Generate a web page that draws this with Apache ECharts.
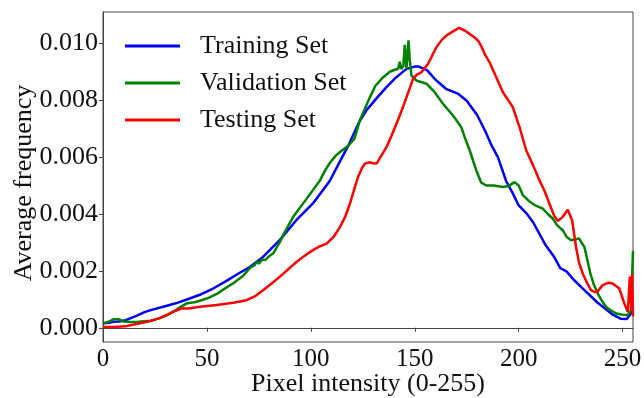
<!DOCTYPE html>
<html>
<head>
<meta charset="utf-8">
<script src="https://cdn.jsdelivr.net/npm/echarts@6/dist/echarts.min.js"></script>
<style>
  html, body { margin: 0; padding: 0; background: #fff; }
  #main { width: 644px; height: 398px; }
</style>
</head>
<body>
<div id="main"></div>
<script>
// tick values
var xTicks = [0, 50, 100, 150, 200, 250];
var yTicks = [0, 0.002, 0.004, 0.006, 0.008, 0.010];

// Training set
var trainX = [0, 3, 5, 8, 11, 16, 20, 23, 29, 35, 41, 47, 53, 59, 65, 71, 77, 85, 93, 101,
  109, 114, 118, 123, 127, 132, 136.4, 141, 146, 150, 152, 156, 160, 165, 171, 175, 180, 184,
  187, 190, 194, 197, 200, 204, 207, 213, 217, 220, 223, 226, 228, 232, 238, 242, 245, 249,
  252, 253.5, 255];
var trainY = [0.00016, 0.00018, 0.00021, 0.00022, 0.00027, 0.00042, 0.00055, 0.00062, 0.00074,
  0.00086, 0.00101, 0.00117, 0.00138, 0.00163, 0.0019, 0.00215, 0.00249, 0.00308, 0.00378,
  0.00437, 0.00515, 0.00585, 0.0064, 0.0072, 0.00767, 0.0081, 0.00846, 0.0088, 0.0091, 0.00918,
  0.00918, 0.00905, 0.00872, 0.0084, 0.00822, 0.00798, 0.00748, 0.0069, 0.0064, 0.006, 0.00515,
  0.00475, 0.0043, 0.004, 0.0037, 0.0029, 0.0025, 0.0021, 0.00198, 0.00173, 0.00158, 0.0013,
  0.00088, 0.00065, 0.00047, 0.00032, 0.00031, 0.00045, 0.0006];

// Validation set
var validX = [0, 3, 5, 7.5, 10, 13, 17, 23, 27, 31, 35, 38, 40.3, 44, 47, 51, 55, 59, 63, 67,
  71, 73, 74, 75, 76.5, 78, 80, 82, 85, 87, 91.5, 98, 104.4, 107, 109.2, 112, 114, 118, 121,
  123.6, 126, 128.4, 131, 134.7, 138, 140.4, 142, 142.8, 143.5, 144.5, 145.2, 146, 147, 147.6,
  148.4, 150.8, 155.6, 159.6, 163.6, 168.4, 172.4, 174, 176.4, 179.6, 182, 184.4, 188, 192.4,
  195, 198, 200, 202, 205, 208, 211.6, 214, 216.4, 218.5, 221.2, 223, 225.2, 227, 229, 231.6,
  233, 234.5, 236, 238, 240, 242, 244.5, 247, 250, 252.5, 254, 255];
var validY = [0.00015, 0.00022, 0.0003, 0.0003, 0.00022, 0.0002, 0.00021, 0.00025, 0.00033,
  0.00045, 0.00062, 0.00076, 0.00086, 0.0009, 0.00096, 0.00106, 0.0012, 0.0014, 0.00158, 0.0018,
  0.00212, 0.0022, 0.00235, 0.00225, 0.0024, 0.00238, 0.00252, 0.00262, 0.003, 0.0033, 0.0039,
  0.00454, 0.00518, 0.00555, 0.0058, 0.00605, 0.00618, 0.0064, 0.00665, 0.0073, 0.0077, 0.0081,
  0.0085, 0.0088, 0.009, 0.00907, 0.0091, 0.00935, 0.0091, 0.0092, 0.00995, 0.0091, 0.0101,
  0.0094, 0.00887, 0.00869, 0.00858, 0.00828, 0.00787, 0.00746, 0.00705, 0.0067, 0.00624,
  0.00553, 0.0051, 0.005, 0.005, 0.00495, 0.00498, 0.00512, 0.005, 0.00466, 0.00445, 0.0043,
  0.00419, 0.004, 0.00384, 0.0036, 0.00343, 0.0032, 0.00308, 0.0031, 0.00314, 0.00284, 0.0024,
  0.0019, 0.00155, 0.00121, 0.00095, 0.00074, 0.0006, 0.0005, 0.00046, 0.00045, 0.0006, 0.0027];

// Testing set
var testX = [0, 5, 10.7, 16, 22.7, 27, 30.7, 35, 38, 41, 46.7, 54.7, 62.7, 69, 73, 77, 81, 85,
  89, 93.2, 97, 101, 104, 107.6, 111, 114, 116.5, 118.8, 121, 122.7, 124.5, 126, 128.4, 130,
  131.6, 133.5, 136.4, 138.8, 141.2, 143.5, 146, 149.2, 151, 153.2, 156.4, 160.4, 163, 165.2,
  168, 171.3, 174, 176.4, 178.5, 180.4, 182, 183.6, 186, 189.2, 192.4, 195, 197.2, 200.4, 203.6,
  207, 210, 212.5, 214.8, 217, 218.8, 221.2, 223.6, 225.7, 227.6, 229, 230.8, 232.4, 234.8,
  236.4, 238, 240.4, 243, 245.2, 248.4, 250.8, 252.5, 253.5, 254.2, 254.6, 255];
var testY = [0.00003, 0.00003, 0.00005, 0.00013, 0.00024, 0.00033, 0.00045, 0.0006, 0.00068,
  0.00068, 0.00074, 0.0008, 0.00088, 0.00097, 0.0011, 0.00132, 0.00155, 0.00179, 0.00205,
  0.00232, 0.00253, 0.00273, 0.00285, 0.00296, 0.0032, 0.00354, 0.0039, 0.00436, 0.0049, 0.0053,
  0.0056, 0.00577, 0.00582, 0.00578, 0.00577, 0.006, 0.00635, 0.00675, 0.00717, 0.0076, 0.0081,
  0.00875, 0.0089, 0.00898, 0.00928, 0.00986, 0.01012, 0.01027, 0.0104, 0.01054, 0.01045,
  0.01033, 0.01022, 0.0101, 0.0099, 0.00963, 0.00933, 0.00881, 0.00828, 0.008, 0.00775, 0.00705,
  0.00624, 0.0057, 0.00518, 0.0048, 0.00436, 0.00395, 0.00375, 0.0039, 0.00415, 0.00378,
  0.00284, 0.0023, 0.00191, 0.00165, 0.00132, 0.00126, 0.00128, 0.0015, 0.00158, 0.00156,
  0.00138, 0.00086, 0.00055, 0.0018, 0.0006, 0.0019, 0.0004];

function pairs(xs, ys) {
    var out = [];
    for (var i = 0; i < xs.length; i++) out.push([xs[i], ys[i]]);
    return out;
}

var font = 'Liberation Serif';
var axisColor = '#444';

var myChart = echarts.init(document.getElementById('main'));
var option = {
    animation: false,
    grid: {
        left: 103,
        right: 11,
        top: 12,
        bottom: 56,
        outerBoundsMode: 'none',
        containLabel: false,
        show: true,
        borderColor: axisColor,
        borderWidth: 1
    },
    legend: {
        orient: 'vertical',
        left: 125,
        top: 33,
        padding: 0,
        itemGap: 11,
        itemWidth: 55,
        itemHeight: 3,
        icon: 'rect',
        textStyle: { fontFamily: font, fontSize: 26, color: '#111', padding: [0, 0, 0, 15] },
        data: ['Training Set', 'Validation Set', 'Testing Set']
    },
    xAxis: {
        type: 'value',
        min: 0,
        max: 255,
        name: 'Pixel intensity (0-255)',
        nameLocation: 'middle',
        nameMoveOverlap: false,
        nameGap: 29,
        nameTextStyle: { fontFamily: font, fontSize: 26, color: '#111' },
        axisLine: { show: true, lineStyle: { color: axisColor, width: 1 } },
        axisTick: { show: true, inside: false, length: 4, customValues: xTicks, lineStyle: { color: axisColor } },
        axisLabel: { customValues: xTicks, margin: 5, fontFamily: font, fontSize: 25, color: '#111' },
        splitLine: { show: false }
    },
    yAxis: {
        type: 'value',
        min: -0.0005,
        max: 0.0111,
        name: 'Average frequency',
        nameLocation: 'middle',
        nameMoveOverlap: false,
        nameGap: 66,
        nameTextStyle: { fontFamily: font, fontSize: 26, color: '#111', padding: [0, 12, 0, 0] },
        axisLine: { show: true, lineStyle: { color: axisColor, width: 1 } },
        axisTick: { show: true, inside: false, length: 4, customValues: yTicks, lineStyle: { color: axisColor } },
        axisLabel: {
            customValues: yTicks,
            margin: 5,
            fontFamily: font,
            fontSize: 26,
            color: '#111',
            formatter: function (v) { return v.toFixed(3); }
        },
        splitLine: { show: false }
    },
    series: [
        {
            name: 'Training Set',
            type: 'line',
            symbol: 'none',
            color: '#0000ff',
            lineStyle: { width: 2.5, color: '#0000ff' },
            data: pairs(trainX, trainY)
        },
        {
            name: 'Validation Set',
            type: 'line',
            symbol: 'none',
            color: '#008000',
            lineStyle: { width: 2.5, color: '#008000' },
            data: pairs(validX, validY)
        },
        {
            name: 'Testing Set',
            type: 'line',
            symbol: 'none',
            color: '#ff0000',
            lineStyle: { width: 2.5, color: '#ff0000' },
            data: pairs(testX, testY)
        }
    ]
};
myChart.setOption(option);
</script>
</body>
</html>
